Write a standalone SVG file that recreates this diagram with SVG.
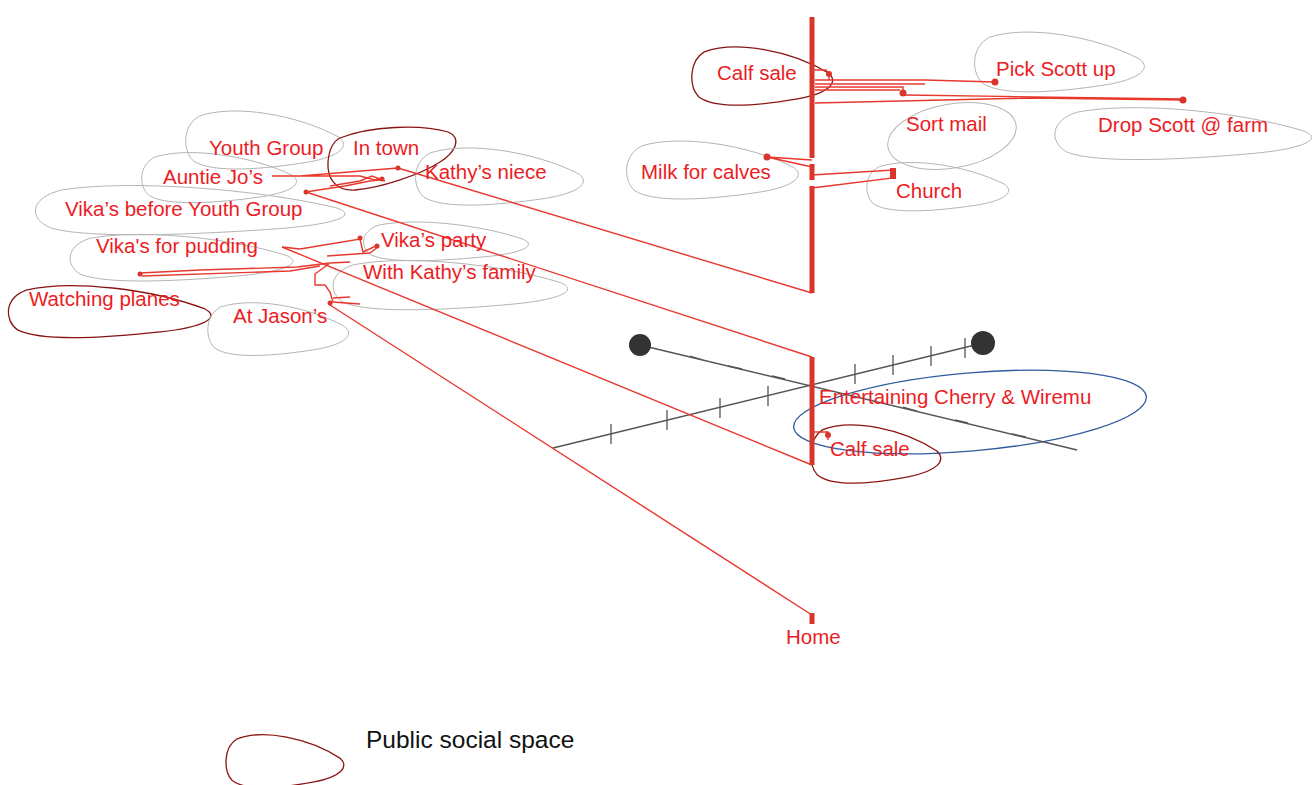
<svg xmlns="http://www.w3.org/2000/svg" xmlns:xlink="http://www.w3.org/1999/xlink" width="1314" height="785" viewBox="0 0 1314 785">
<style>
.lbl{font-family:"Liberation Sans",Arial,sans-serif;font-size:20.5px;fill:#ec1c24}
.leg{font-family:"Liberation Sans",Arial,sans-serif;font-size:24.5px;fill:#111}
.priv{fill:none;stroke:#b4b4b4;stroke-width:1}
.pub{fill:none;stroke:#8a1414;stroke-width:1.3}
.home{fill:none;stroke:#2f5c9e;stroke-width:1.3}
.path{fill:none;stroke:#e8382e;stroke-width:1.4}
.bar{fill:none;stroke:#d9352b;stroke-width:5}
.axis{fill:none;stroke:#555;stroke-width:1.5}
.tick{fill:none;stroke:#555;stroke-width:1.3}
.dot{fill:#d9352b}
.ball{fill:#333}
</style>
<defs>
<path id="tear" vector-effect="non-scaling-stroke" d="M8,12 C30,-6 70,10 96,44 C104,58 96,75 74,83 C50,92 16,100 4,80 C-3,64 -3,26 8,12 Z"/>
</defs>
<rect width="1314" height="785" fill="#fff"/>

<g id="spaces">
<use id="b-calf1" xlink:href="#tear" class="pub" transform="translate(693,44) scale(1.41,0.66)"/>
<use id="b-pick" xlink:href="#tear" class="priv" transform="translate(976,29) scale(1.70,0.68)"/>
<ellipse id="b-sort" class="priv" cx="952" cy="136" rx="65" ry="32" transform="rotate(-10 952 136)"/>
<use id="b-drop" xlink:href="#tear" class="priv" transform="translate(1057,105) scale(2.57,0.59)"/>
<use id="b-milk" xlink:href="#tear" class="priv" transform="translate(628,138) scale(1.72,0.66)"/>
<use id="b-church" xlink:href="#tear" class="priv" transform="translate(868,160) scale(1.42,0.55)"/>
<use id="b-youth" xlink:href="#tear" class="priv" transform="translate(187,108) scale(1.58,0.66)"/>
<path id="b-town" class="pub" d="M340,138 C370,126 420,124 448,132 C462,138 456,152 440,162 C420,175 380,188 355,190 C335,191 327,178 328,162 C329,150 332,142 340,138 Z"/>
<use id="b-niece" xlink:href="#tear" class="priv" transform="translate(417,145) scale(1.68,0.65)"/>
<use id="b-auntie" xlink:href="#tear" class="priv" transform="translate(143,150) scale(1.55,0.57)"/>
<use id="b-vbyg" xlink:href="#tear" class="priv" transform="translate(38,183) scale(3.10,0.56)"/>
<use id="b-pud" xlink:href="#tear" class="priv" transform="translate(72,232) scale(2.23,0.53)"/>
<use id="b-party" xlink:href="#tear" class="priv" transform="translate(365,220) scale(1.65,0.44)"/>
<use id="b-kfam" xlink:href="#tear" class="priv" transform="translate(335,258) scale(2.35,0.56)"/>
<use id="b-planes" xlink:href="#tear" class="pub" transform="translate(10,283) scale(2.03,0.59)"/>
<use id="b-jason" xlink:href="#tear" class="priv" transform="translate(209,300) scale(1.41,0.60)"/>
<ellipse id="b-ent" class="home" cx="970" cy="412" rx="177" ry="39" transform="rotate(-5 970 412)"/>
<use id="b-calf2" xlink:href="#tear" class="pub" transform="translate(812,422) scale(1.30,0.66)"/>
<use id="b-legend" xlink:href="#tear" class="pub" transform="translate(227,732) scale(1.18,0.60)"/>
</g>

<g id="axes">
<line class="axis" x1="553" y1="448" x2="975" y2="345"/>
<path class="tick" d="M611,424 V444 M667,410 V430 M720,398 V418 M768,386 V406 M855,364 V384 M893,355 V375 M931,346 V366 M965,338 V358"/>
<line class="axis" x1="640" y1="345" x2="1077" y2="450"/>
<path class="tick" stroke-width="2" d="M690,356 L703,360 M728,366 L742,369 M772,376 L785,379 M903,407 L917,411 M955,420 L968,423 M1012,434 L1026,437"/>
<circle class="ball" cx="640" cy="345" r="11"/>
<circle class="ball" cx="983" cy="343" r="12"/>
</g>

<g id="connectors">
<path class="path" d="M398,168 L812,293"/>
<path class="path" d="M306,192 L812,357"/>
<path class="path" d="M282,247 L812,465"/>
<path class="path" d="M330,305 L812,615"/>
<path class="path" d="M272,176 H330 L360,176 L375,180 L383,178 M300,176 L398,168 M306,192 L325,189 L345,186 L360,183 L370,181 L380,180 M330,186 L360,181 L372,176 L385,181"/>
<path class="path" d="M282,247 L300,249 L360,239 L363,252 L376,246 M327,256 L370,253 L378,247 M140,273 L200,270 L297,267 L330,263 L350,262 M142,276 L290,271 L320,266 M330,263 L315,274 L315,285 L325,285 L330,292 L333,302 L360,304 M333,298 L350,297"/>
<path class="bar" d="M812,17 V158 M812,164 V180 M812,186 V293"/>
<path class="path" d="M812,70 H826 L829,74 V80 M815,80 H925 L995,82 M815,84 H925 M815,87 H903 V93 M815,90 H900 M815,103 L1030,98 L1183,100 M905,95 L1183,99"/>
<path class="path" d="M812,160 L767,157 L812,167 M812,175 L893,170 V178 L812,188"/>
<path class="bar" d="M812,357 V465"/>
<path class="path" d="M812,432 H828 V440"/>
<path class="bar" stroke-width="4" d="M812,613 V624"/>
<circle class="dot" cx="829" cy="74" r="3"/>
<circle class="dot" cx="995" cy="82" r="3.5"/>
<circle class="dot" cx="903" cy="93" r="3.5"/>
<circle class="dot" cx="1183" cy="100" r="3.5"/>
<circle class="dot" cx="767" cy="157" r="3.5"/>
<rect class="dot" x="890" y="168" width="6" height="11"/>
<circle class="dot" cx="828" cy="435" r="3"/>
<circle class="dot" cx="398" cy="168" r="2.5"/>
<circle class="dot" cx="382" cy="179" r="2.5"/>
<circle class="dot" cx="306" cy="192" r="2.5"/>
<circle class="dot" cx="360" cy="238" r="2.5"/>
<circle class="dot" cx="377" cy="246" r="2.5"/>
<circle class="dot" cx="330" cy="303" r="2.5"/>
<circle class="dot" cx="140" cy="274" r="2.5"/>
</g>

<g id="labels">
<text class="lbl" x="717" y="80">Calf sale</text>
<text class="lbl" x="996" y="76">Pick Scott up</text>
<text class="lbl" x="906" y="131">Sort mail</text>
<text class="lbl" x="1098" y="132">Drop Scott @ farm</text>
<text class="lbl" x="641" y="179">Milk for calves</text>
<text class="lbl" x="896" y="198">Church</text>
<text class="lbl" x="209" y="155">Youth Group</text>
<text class="lbl" x="353" y="155">In town</text>
<text class="lbl" x="425" y="179">Kathy’s niece</text>
<text class="lbl" x="163" y="184">Auntie Jo’s</text>
<text class="lbl" x="65" y="216">Vika’s before Youth Group</text>
<text class="lbl" x="96" y="253">Vika's for pudding</text>
<text class="lbl" x="381" y="247">Vika’s party</text>
<text class="lbl" x="363" y="279">With Kathy’s family</text>
<text class="lbl" x="29" y="306">Watching planes</text>
<text class="lbl" x="233" y="323">At Jason’s</text>
<text class="lbl" x="819" y="404">Entertaining Cherry &amp; Wiremu</text>
<text class="lbl" x="830" y="456">Calf sale</text>
<text class="lbl" x="786" y="644">Home</text>
<text class="leg" x="366" y="748">Public social space</text>
</g>
</svg>
